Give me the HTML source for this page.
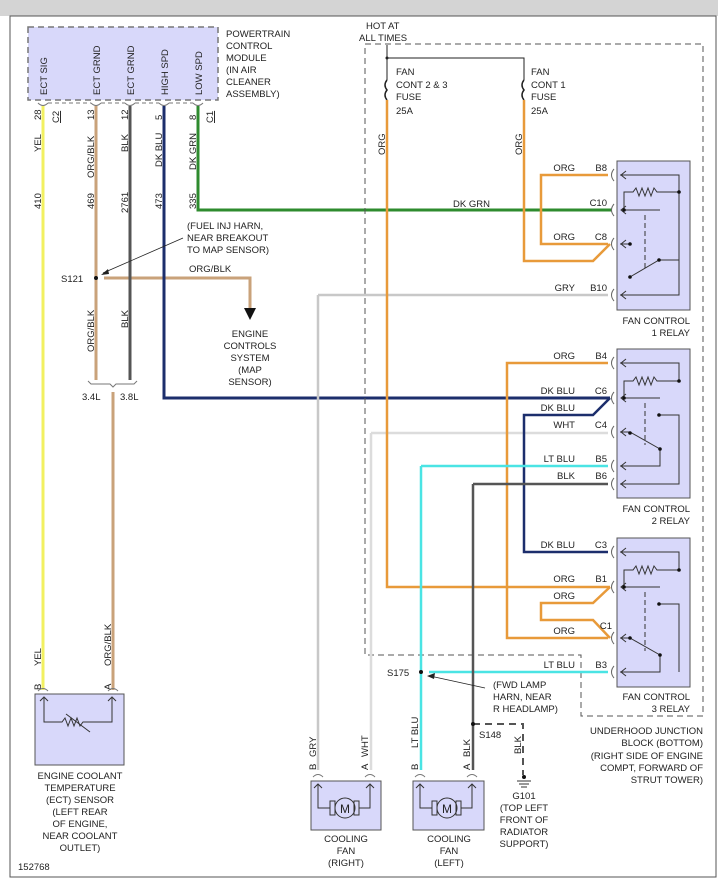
<!DOCTYPE html>
<html><head><meta charset="utf-8"><style>
html,body{margin:0;padding:0;background:#fff}
svg{display:block}
text{font-family:"Liberation Sans",sans-serif;font-size:9.5px;fill:#222}
</style></head><body>
<svg width="718" height="890" viewBox="0 0 718 890" xmlns="http://www.w3.org/2000/svg">
<rect x="0" y="0" width="718" height="16" fill="#d4d4d4"/>
<rect x="10" y="16" width="706" height="861" fill="#fff" stroke="#555" stroke-width="1"/>

<!-- PCM -->
<rect x="28" y="27" width="190" height="73" fill="#d8d8fa" stroke="#777" stroke-width="1.5" stroke-dasharray="6,4"/>
<g transform="rotate(-90)">
<text x="-95" y="47">ECT SIG</text>
<text x="-95" y="100">ECT GRND</text>
<text x="-95" y="134">ECT GRND</text>
<text x="-95" y="168">HIGH SPD</text>
<text x="-95" y="202">LOW SPD</text>
<!-- pin/wire labels -->
<text x="-120" y="41">28</text><text x="-123" y="59" style="text-decoration:underline">C2</text>
<text x="-120" y="94">13</text><text x="-120" y="128">12</text><text x="-120" y="162">5</text><text x="-120" y="196">8</text>
<text x="-123" y="213" style="text-decoration:underline">C1</text>
<text x="-152" y="41">YEL</text><text x="-178" y="94">ORG/BLK</text><text x="-152" y="128">BLK</text>
<text x="-167" y="162">DK BLU</text><text x="-170" y="196">DK GRN</text>
<text x="-209" y="41">410</text><text x="-209" y="94">469</text><text x="-213" y="128">2761</text>
<text x="-209" y="162">473</text><text x="-209" y="196">335</text>
<text x="-352" y="94">ORG/BLK</text><text x="-328" y="128">BLK</text>
<text x="-666" y="41">YEL</text><text x="-666" y="111">ORG/BLK</text>
<text x="-690" y="41">B</text><text x="-690" y="111">A</text>
<text x="-155" y="385">ORG</text><text x="-155" y="522">ORG</text>
<text x="-757" y="316">GRY</text><text x="-770" y="316">B</text>
<text x="-757" y="368">WHT</text><text x="-770" y="368">A</text>
<text x="-748" y="418">LT BLU</text><text x="-770" y="418">B</text>
<text x="-757" y="470">BLK</text><text x="-770" y="470">A</text>
<text x="-754" y="521">BLK</text>
</g>
<text x="226" y="37">POWERTRAIN</text><text x="226" y="49">CONTROL</text><text x="226" y="61">MODULE</text>
<text x="226" y="73">(IN AIR</text><text x="226" y="85">CLEANER</text><text x="226" y="97">ASSEMBLY)</text>

<!-- connector marks -->
<g fill="none" stroke="#777" stroke-width="1">
<path d="M38,103 q5,5 10,0 M91,103 q5,5 10,0 M125,103 q5,5 10,0 M159,103 q5,5 10,0 M193,103 q5,5 10,0"/>
<path d="M48,103 H91 M101,103 H125 M135,103 H159 M169,103 H193" stroke-dasharray="4,3"/>
</g>

<!-- left wires -->
<g fill="none" stroke-width="3">
<path d="M43,106 V690" stroke="#f2f060"/>
<path d="M96,106 V380" stroke="#c9a27a"/>
<path d="M104,278 H250 V308" stroke="#c9a27a"/>
<path d="M113,392 V690" stroke="#c9a27a"/>
<path d="M130,106 V380" stroke="#555"/>
<path d="M164,106 V398 H610" stroke="#1c2e6c"/>
<path d="M198,106 V210 H612" stroke="#2e8b2e"/>
</g>
<polygon points="244,308 256,308 250,320" fill="#111"/>
<circle cx="96" cy="278" r="2" fill="#111"/>
<text x="61" y="282">S121</text>
<text x="189" y="272">ORG/BLK</text>
<text x="187" y="229">(FUEL INJ HARN,</text><text x="187" y="241">NEAR BREAKOUT</text><text x="187" y="253">TO MAP SENSOR)</text>
<line x1="183" y1="238" x2="103" y2="273" stroke="#222" stroke-width="0.8"/>
<polygon points="101,275 108,269 109,274" fill="#222"/>
<text x="250" y="337" text-anchor="middle">ENGINE</text><text x="250" y="349" text-anchor="middle">CONTROLS</text>
<text x="250" y="361" text-anchor="middle">SYSTEM</text><text x="250" y="373" text-anchor="middle">(MAP</text><text x="250" y="385" text-anchor="middle">SENSOR)</text>
<path d="M88,381 l3,3 H110 l3,3 l3,-3 H134 l3,-3" fill="none" stroke="#777" stroke-width="1"/>
<text x="82" y="400">3.4L</text><text x="120" y="400">3.8L</text>

<!-- ECT sensor -->
<rect x="35" y="694" width="89" height="71" fill="#d8d8fa" stroke="#555"/>
<path d="M38,691 q5,-5 10,0 M108,691 q5,-5 10,0" fill="none" stroke="#777"/>
<path d="M44,698 V722 H62 l3,-4 3,8 3,-8 3,8 3,-8 3,8 3,-4 H112 V698" fill="none" stroke="#333"/>
<path d="M40,701 l4,-4 4,4 M108,701 l4,-4 4,4" fill="none" stroke="#333"/>
<line x1="66" y1="714" x2="90" y2="732" stroke="#333"/>
<g text-anchor="middle">
<text x="80" y="779">ENGINE COOLANT</text><text x="80" y="791">TEMPERATURE</text><text x="80" y="803">(ECT) SENSOR</text>
<text x="80" y="815">(LEFT REAR</text><text x="80" y="827">OF ENGINE,</text><text x="80" y="839">NEAR COOLANT</text><text x="80" y="851">OUTLET)</text>
</g>
<text x="18" y="870">152768</text>

<!-- right area -->
<text x="366" y="29">HOT AT</text><text x="359" y="41">ALL TIMES</text>
<path d="M365,44 H703 V716 H581 V655 H365 Z" fill="none" stroke="#555" stroke-width="1" stroke-dasharray="6,4"/>
<path d="M387,45 V80 M387,58 H524 V80" fill="none" stroke="#222" stroke-width="1"/>
<circle cx="387" cy="58" r="1.5" fill="#222"/>
<path d="M387,80 q-4,5 0,10 q-4,5 0,10 M524,80 q-4,5 0,10 q-4,5 0,10" fill="none" stroke="#222" stroke-width="1.5"/>
<text x="396" y="75">FAN</text><text x="396" y="88">CONT 2 &amp; 3</text><text x="396" y="100">FUSE</text><text x="396" y="114">25A</text>
<text x="531" y="75">FAN</text><text x="531" y="88">CONT 1</text><text x="531" y="100">FUSE</text><text x="531" y="114">25A</text>

<g fill="none" stroke-width="2.5">
<path d="M318,295 H608 M318,295 V770" stroke="#c8c8c8"/>
<path d="M371,433 H608 M371,433 V770" stroke="#dcdcdc"/>
<path d="M387,100 V587 H610" stroke="#e89a3a"/>
<path d="M524,100 V261 H593 L610,244" stroke="#e89a3a"/>
<path d="M608,175 H541 V244 H608" stroke="#e89a3a"/>
<path d="M608,363 H507 V638 H608" stroke="#e89a3a"/>
<path d="M610,587 L593,603 H541 V620 H593 L610,638" stroke="#e89a3a"/>
<path d="M610,398 L593,415 H524 V552 H608" stroke="#1c2e6c"/>
<path d="M421,466 H608 M421,466 V770 M429,672 H608" stroke="#4ae4e4"/>
<path d="M473,484 H608 M473,484 V770" stroke="#555"/>
</g>
<path d="M473,724 H523 V775" fill="none" stroke="#555" stroke-width="2" stroke-dasharray="7,5"/>
<circle cx="473" cy="724" r="2" fill="#111"/><circle cx="421" cy="672" r="2" fill="#111"/>
<circle cx="524" cy="777" r="2" fill="#111"/>
<path d="M517,781 H531 M519,784 H529 M521,787 H527" stroke="#333"/>
<text x="387" y="676">S175</text><text x="479" y="738">S148</text>
<line x1="485" y1="688" x2="430" y2="676" stroke="#222" stroke-width="0.8"/>
<polygon points="427,676 435,673 434,679" fill="#222"/>
<text x="493" y="688">(FWD LAMP</text><text x="493" y="700">HARN, NEAR</text><text x="493" y="712">R HEADLAMP)</text>
<g text-anchor="middle"><text x="524" y="799">G101</text><text x="524" y="811">(TOP LEFT</text><text x="524" y="823">FRONT OF</text><text x="524" y="835">RADIATOR</text><text x="524" y="847">SUPPORT)</text></g>
<g text-anchor="end"><text x="703" y="734">UNDERHOOD JUNCTION</text><text x="703" y="746">BLOCK (BOTTOM)</text>
<text x="703" y="759">(RIGHT SIDE OF ENGINE</text><text x="703" y="771">COMPT, FORWARD OF</text><text x="703" y="783">STRUT TOWER)</text></g>

<!-- wire labels right -->
<g text-anchor="end">
<text x="490" y="207">DK GRN</text>
<text x="575" y="171">ORG</text><text x="607" y="171">B8</text>
<text x="607" y="206">C10</text>
<text x="575" y="240">ORG</text><text x="607" y="240">C8</text>
<text x="575" y="291">GRY</text><text x="607" y="291">B10</text>
<text x="575" y="359">ORG</text><text x="607" y="359">B4</text>
<text x="575" y="394">DK BLU</text><text x="607" y="394">C6</text>
<text x="575" y="411">DK BLU</text>
<text x="575" y="428">WHT</text><text x="607" y="428">C4</text>
<text x="575" y="462">LT BLU</text><text x="607" y="462">B5</text>
<text x="575" y="479">BLK</text><text x="607" y="479">B6</text>
<text x="575" y="548">DK BLU</text><text x="607" y="548">C3</text>
<text x="575" y="582">ORG</text><text x="607" y="582">B1</text>
<text x="575" y="599">ORG</text>
<text x="575" y="634">ORG</text><text x="612" y="629">C1</text>
<text x="575" y="668">LT BLU</text><text x="607" y="668">B3</text>
<text x="690" y="324">FAN CONTROL</text><text x="690" y="336">1 RELAY</text>
<text x="690" y="512">FAN CONTROL</text><text x="690" y="524">2 RELAY</text>
<text x="690" y="700">FAN CONTROL</text><text x="690" y="712">3 RELAY</text>
</g>

<!-- relays -->
<g stroke="#333" stroke-width="1" fill="none">
<rect x="617" y="161" width="73" height="149" fill="#d8d8fa" stroke="#555"/>
<rect x="617" y="349" width="73" height="149" fill="#d8d8fa" stroke="#555"/>
<rect x="617" y="538" width="73" height="149" fill="#d8d8fa" stroke="#555"/>
<!-- relay1 -->
<path d="M620,175 H679 V295 H620 M679,192 H657 l-3,-4 -3,8 -3,-8 -3,8 -3,-8 -3,8 -3,-8 -3,4 H624 V210 H660 M620,244 H630 M630,277 L659,260 H679"/>
<path d="M645,215 V268" stroke-dasharray="5,3"/>
<!-- relay2 -->
<path d="M620,363 H679 V381 H657 l-3,-4 -3,8 -3,-8 -3,8 -3,-8 -3,8 -3,-8 -3,4 H624 V398 H660 M620,432 H630 L660,449 V466 H620 M659,415 H679 V484 H620"/>
<path d="M645,403 V445" stroke-dasharray="5,3"/>
<!-- relay3 -->
<path d="M620,552 H679 V570 H657 l-3,-4 -3,8 -3,-8 -3,8 -3,-8 -3,8 -3,-8 -3,4 H624 V587 H660 M620,638 H630 L660,655 V672 H620 M659,604 H679 V672"/>
<path d="M645,592 V651" stroke-dasharray="5,3"/>
<!-- arrows at pins -->
<path d="M626,171 l-5,4 5,4 M626,206 l-5,4 5,4 M626,240 l-5,4 5,4 M626,291 l-5,4 5,4 M626,359 l-5,4 5,4 M626,394 l-5,4 5,4 M626,428 l-5,4 5,4 M626,462 l-5,4 5,4 M626,480 l-5,4 5,4 M626,548 l-5,4 5,4 M626,583 l-5,4 5,4 M626,634 l-5,4 5,4 M626,668 l-5,4 5,4"/>
<path d="M614,169 q-5,6 0,12 M614,204 q-5,6 0,12 M614,238 q-5,6 0,12 M614,289 q-5,6 0,12 M614,357 q-5,6 0,12 M614,392 q-5,6 0,12 M614,426 q-5,6 0,12 M614,460 q-5,6 0,12 M614,478 q-5,6 0,12 M614,546 q-5,6 0,12 M614,581 q-5,6 0,12 M614,632 q-5,6 0,12 M614,666 q-5,6 0,12" stroke="#666"/>
</g>
<g fill="#111"><circle cx="679" cy="192" r="1.8"/><circle cx="624" cy="210" r="1.8"/><circle cx="630" cy="244" r="1.8"/><circle cx="630" cy="277" r="1.8"/><circle cx="659" cy="260" r="1.8"/>
<circle cx="679" cy="381" r="1.8"/><circle cx="624" cy="398" r="1.8"/><circle cx="630" cy="433" r="1.8"/><circle cx="660" cy="449" r="1.8"/><circle cx="659" cy="415" r="1.8"/>
<circle cx="679" cy="570" r="1.8"/><circle cx="624" cy="587" r="1.8"/><circle cx="630" cy="638" r="1.8"/><circle cx="660" cy="655" r="1.8"/><circle cx="659" cy="604" r="1.8"/></g>

<!-- fans -->
<g stroke="#333" fill="none">
<rect x="311" y="781" width="70" height="49" fill="#d8d8fa" stroke="#555"/>
<rect x="413" y="781" width="71" height="49" fill="#d8d8fa" stroke="#555"/>
<path d="M318,784 V808 H330 M359,808 H370 V784 M314,788 l4,-4 4,4 M366,788 l4,-4 4,4"/>
<rect x="330" y="801" width="5" height="14"/><rect x="354" y="801" width="5" height="14"/>
<circle cx="345" cy="808" r="10"/>
<path d="M420,784 V808 H432 M461,808 H472 V784 M416,788 l4,-4 4,4 M468,788 l4,-4 4,4"/>
<rect x="432" y="801" width="5" height="14"/><rect x="456" y="801" width="5" height="14"/>
<circle cx="447" cy="808" r="10"/>
<path d="M313,777 q5,-5 10,0 M365,777 q5,-5 10,0 M415,777 q5,-5 10,0 M467,777 q5,-5 10,0" stroke="#777"/>
</g>
<text x="345" y="813" text-anchor="middle" style="font-size:12px">M</text>
<text x="447" y="813" text-anchor="middle" style="font-size:12px">M</text>
<g text-anchor="middle"><text x="346" y="842">COOLING</text><text x="346" y="854">FAN</text><text x="346" y="866">(RIGHT)</text>
<text x="449" y="842">COOLING</text><text x="449" y="854">FAN</text><text x="449" y="866">(LEFT)</text></g>
</svg>
</body></html>
